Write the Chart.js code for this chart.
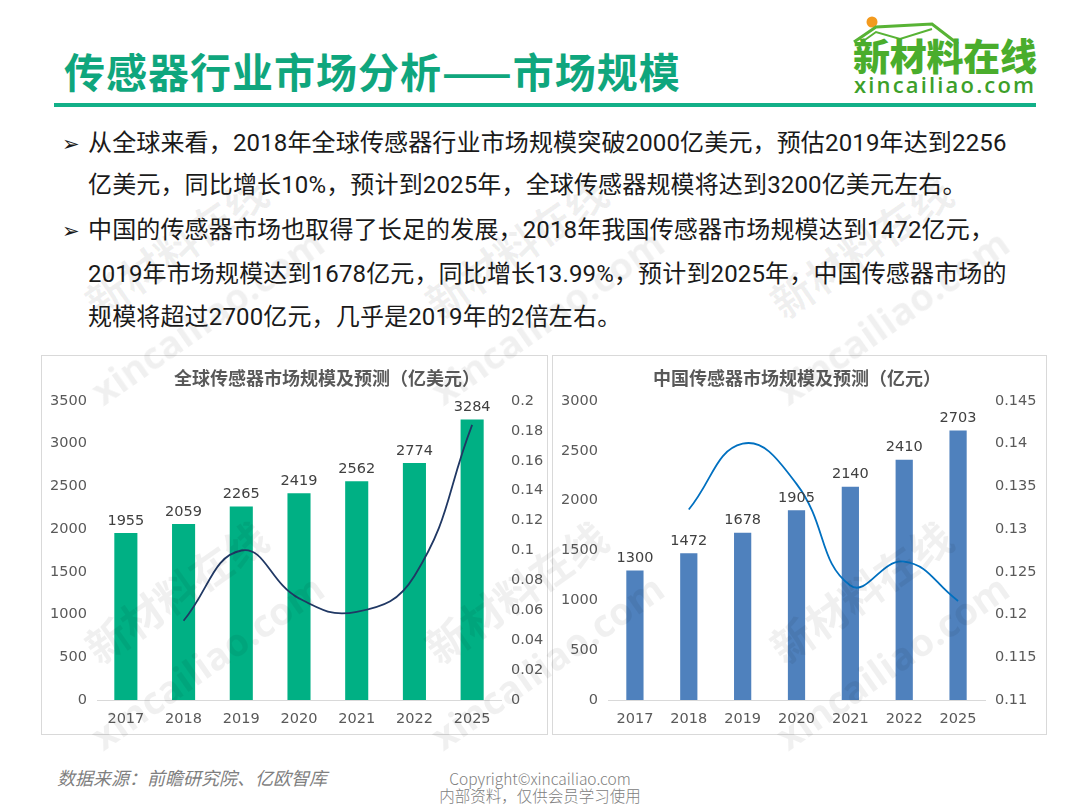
<!DOCTYPE html>
<html>
<head>
<meta charset="utf-8">
<script src="https://cdn.jsdelivr.net/npm/chart.js@4.4.1/dist/chart.umd.min.js"></script>
<style>
  html, body { margin: 0; padding: 0; background: #fff; }
  #page { position: relative; width: 1080px; height: 810px; overflow: hidden; font-family: "Noto Sans CJK SC", sans-serif; }
  .abs { position: absolute; }
  #title { left: 64px; top: 43px; font-size: 41px; font-weight: bold; color: #0fa67d; letter-spacing: 1px; white-space: nowrap; line-height: 54px; }
  #rule { left: 54px; top: 103px; width: 982px; height: 4px; background: #12b088; }
  .para { left: 62px; font-family: Roboto, "Noto Sans CJK SC", sans-serif; font-size: 24px; color: #1a1a1a; white-space: nowrap; line-height: 44px; letter-spacing: 0.15px; }
  .arrow { font-family: "DejaVu Sans", sans-serif; font-size: 21px; display: inline-block; width: 26px; }
  .box { border: 1px solid #d9d9d9; box-sizing: border-box; }
  .ctitle { top: 364px; font-size: 18px; font-weight: bold; color: #595959; white-space: nowrap; transform: translateX(-50%); line-height: 26px; }
  #src { left: 57px; top: 764px; font-size: 18px; font-style: italic; color: #7f7f7f; }
  #copy { left: 540px; top: 770px; transform: translateX(-50%); font-size: 15.5px; color: #808080; text-align: center; line-height: 17px; font-weight: 300; white-space: nowrap; }
  .wm { position: absolute; color: rgba(0,0,0,0.06); font-weight: bold; white-space: nowrap; transform-origin: center; pointer-events: none; }
  .wm1 { font-size: 42px; }
  .wm2 { font-size: 38px; font-family: "Open Sans", sans-serif; }
</style>
</head>
<body>
<div id="page">
  <div id="title" class="abs">传感器行业市场分析——市场规模</div>
  <div id="rule" class="abs"></div>

  <!-- logo -->
  <svg class="abs" style="left:848px;top:12px" width="195" height="88" viewBox="0 0 195 88">
    <circle cx="24" cy="10" r="5.5" fill="#f39a1e"/>
    <polyline points="6,30 28,15 84,12 110,32" fill="none" stroke="#58b335" stroke-width="3"/>
    <polyline points="14,30 28,20 52,27 84,17" fill="none" stroke="#58b335" stroke-width="2"/>
    <text x="5" y="59" font-family="Noto Sans CJK SC" font-weight="900" font-size="37" fill="#4aad2c" textLength="184">新材料在线</text>
    <text x="6" y="81" font-family="Open Sans" font-weight="600" font-size="22" fill="#3d9f2a" textLength="180">xincailiao.com</text>
  </svg>

  <div class="abs para" style="top:121px"><span class="arrow">➢</span>从全球来看，2018年全球传感器行业市场规模突破2000亿美元，预估2019年达到2256</div>
  <div class="abs para" style="top:163px;left:88px">亿美元，同比增长10%，预计到2025年，全球传感器规模将达到3200亿美元左右。</div>
  <div class="abs para" style="top:208px"><span class="arrow">➢</span>中国的传感器市场也取得了长足的发展，2018年我国传感器市场规模达到1472亿元，</div>
  <div class="abs para" style="top:252px;left:88px">2019年市场规模达到1678亿元，同比增长13.99%，预计到2025年，中国传感器市场的</div>
  <div class="abs para" style="top:295px;left:88px">规模将超过2700亿元，几乎是2019年的2倍左右。</div>

  <div class="abs box" style="left:41px;top:355px;width:507px;height:380px"></div>
  <div class="abs box" style="left:552px;top:355px;width:495px;height:380px"></div>
  <canvas id="globalChart" class="abs" style="left:41px;top:355px" width="507" height="380"></canvas>
  <canvas id="chinaChart" class="abs" style="left:552px;top:355px" width="495" height="380"></canvas>
  <div class="abs ctitle" style="left:327px">全球传感器市场规模及预测（亿美元）</div>
  <div class="abs ctitle" style="left:797px">中国传感器市场规模及预测（亿元）</div>

  <div id="src" class="abs">数据来源：前瞻研究院、亿欧智库</div>
  <div id="copy" class="abs">Copyright©xincailiao.com<br>内部资料，仅供会员学习使用</div>

  <!-- watermarks -->
  <div class="wm wm1" style="left:70px;top:560px;transform:rotate(-35deg)">新材料在线</div>
  <div class="wm wm2" style="left:70px;top:635px;transform:rotate(-35deg)">xincailiao.com</div>
  <div class="wm wm1" style="left:410px;top:560px;transform:rotate(-35deg)">新材料在线</div>
  <div class="wm wm2" style="left:410px;top:635px;transform:rotate(-35deg)">xincailiao.com</div>
  <div class="wm wm1" style="left:755px;top:560px;transform:rotate(-35deg)">新材料在线</div>
  <div class="wm wm2" style="left:755px;top:635px;transform:rotate(-35deg)">xincailiao.com</div>
  <div class="wm wm1" style="left:70px;top:215px;transform:rotate(-35deg)">新材料在线</div>
  <div class="wm wm2" style="left:70px;top:290px;transform:rotate(-35deg)">xincailiao.com</div>
  <div class="wm wm1" style="left:410px;top:215px;transform:rotate(-35deg)">新材料在线</div>
  <div class="wm wm2" style="left:410px;top:290px;transform:rotate(-35deg)">xincailiao.com</div>
  <div class="wm wm1" style="left:755px;top:215px;transform:rotate(-35deg)">新材料在线</div>
  <div class="wm wm2" style="left:755px;top:290px;transform:rotate(-35deg)">xincailiao.com</div>
</div>

<script>
const years = ['2017', '2018', '2019', '2020', '2021', '2022', '2025'];

// global market, 100M USD
const globalSize = [1955, 2059, 2265, 2419, 2562, 2774, 3284];
const globalGrowth = [null, 0.053, 0.100, 0.068, 0.059, 0.083, 0.184];

// China market, 100M CNY
const chinaSize = [1300, 1472, 1678, 1905, 2140, 2410, 2703];
const chinaGrowth = [null, 0.1323, 0.1400, 0.1353, 0.1234, 0.1262, 0.1216];

const tickFont = { family: 'DejaVu Sans', size: 14.5 };
const tickColor = '#595959';

// draw the value above each bar
const barLabels = {
  id: 'barLabels',
  afterDatasetsDraw(chart) {
    const ctx = chart.ctx;
    const meta = chart.getDatasetMeta(0);
    ctx.save();
    ctx.font = '14.5px "DejaVu Sans"';
    ctx.fillStyle = '#404040';
    ctx.textAlign = 'center';
    ctx.textBaseline = 'bottom';
    meta.data.forEach((bar, i) => {
      ctx.fillText(chart.data.datasets[0].data[i], bar.x, bar.y - 5);
    });
    ctx.restore();
  }
};

function trim(v, d) {
  return String(+Number(v).toFixed(d));
}

function makeChart(id, sizes, growth, barColor, lineColor, yMax, rMin, rMax, rStep, rightWidth, barPct) {
  const ctx = document.getElementById(id).getContext('2d');
  return new Chart(ctx, {
    data: {
      labels: years,
      datasets: [
        {
          type: 'bar',
          data: sizes,
          backgroundColor: barColor,
          yAxisID: 'y',
          barPercentage: barPct,
          categoryPercentage: 1,
          order: 2,
        },
        {
          type: 'line',
          data: growth,
          borderColor: lineColor,
          borderWidth: 1.8,
          pointRadius: 0,
          tension: 0.45,
          fill: false,
          yAxisID: 'y1',
          order: 1,
        },
      ],
    },
    options: {
      responsive: false,
      animation: false,
      layout: { padding: { top: 46, left: 0, right: 0, bottom: 0 } },
      plugins: {
        legend: { display: false },
        title: { display: false },
        tooltip: { enabled: false },
      },
      scales: {
        x: {
          grid: { display: false, drawTicks: false },
          border: { display: true, color: '#d9d9d9', width: 1 },
          ticks: { font: tickFont, color: tickColor, padding: 11 },
          afterFit: s => { s.height = 35; },
        },
        y: {
          position: 'left',
          min: 0,
          max: yMax,
          grid: { display: false, drawTicks: false },
          border: { display: false },
          ticks: { stepSize: 500, font: tickFont, color: tickColor, padding: 10, callback: v => String(v) },
          afterFit: s => { s.width = 56; },
        },
        y1: {
          position: 'right',
          min: rMin,
          max: rMax,
          grid: { display: false, drawTicks: false },
          border: { display: false },
          ticks: {
            stepSize: rStep,
            font: tickFont,
            color: tickColor,
            padding: 10,
            callback: v => trim(v, 3),
          },
          afterFit: s => { s.width = rightWidth; },
        },
      },
    },
    plugins: [barLabels],
  });
}

makeChart('globalChart', globalSize, globalGrowth, '#00b084', '#203864', 3500, 0, 0.2, 0.02, 47, 0.4);
makeChart('chinaChart', chinaSize, chinaGrowth, '#4f81bd', '#0070c0', 3000, 0.11, 0.145, 0.005, 62, 0.32);
</script>
</body>
</html>
